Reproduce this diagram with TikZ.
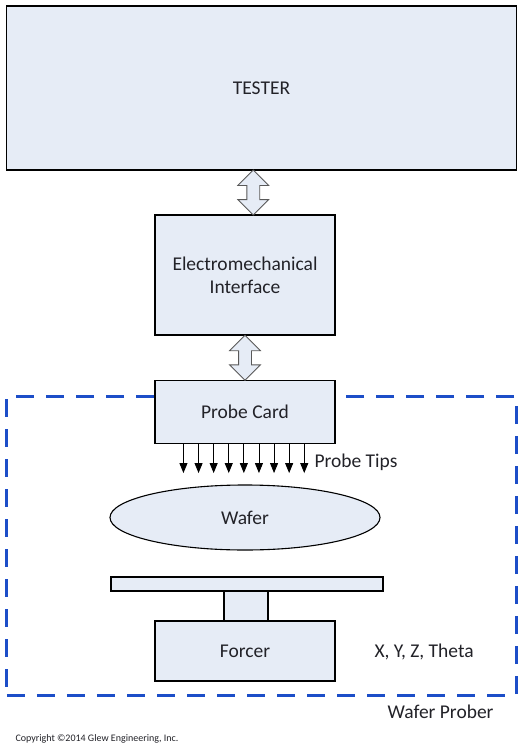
\documentclass[tikz,border=0pt]{standalone}
\usepackage{fontspec}
\setmainfont{Carlito}
\usetikzlibrary{arrows.meta,shapes,positioning,calc}
\definecolor{boxfill}{RGB}{230,236,246}
\definecolor{proberblue}{RGB}{28,78,200}
\definecolor{txt}{RGB}{34,34,40}
\tikzset{
  block/.style={draw=black,line width=1.1bp,fill=boxfill,inner sep=0pt,text=txt},
  dblarrow/.style={double arrow,draw=black!65,line width=0.8bp,fill=boxfill,rotate=90,
    minimum height=45bp,inner sep=6bp,double arrow head extend=9bp},
  tip/.style={-{Triangle[length=10bp,width=8bp]},line width=0.9bp},
  probebox/.style={draw=proberblue,line width=3bp,dash pattern=on 18bp off 12bp,inner sep=0pt}
}
\begin{document}
\begin{tikzpicture}[x=1bp,y=-1bp,font=\fontsize{19.5bp}{23bp}\selectfont,text=txt]
\useasboundingbox[fill=white] (0,0) rectangle (524,751);
\node[probebox,minimum width=509bp,minimum height=299bp] (prober) at (261.5,545.5) {};
\node[block,minimum width=510bp,minimum height=164bp] (tester) at (261.5,88) {TESTER};
\node[block,minimum width=180bp,minimum height=120bp,align=center] (emi) at (245,275)
  {Electromechanical\\Interface};
\node[block,minimum width=180bp,minimum height=63bp] (card) at (245,412) {Probe Card};
\node[block,ellipse,minimum width=270bp,minimum height=65bp] (wafer) at (245,517.5) {Wafer};
\node[block,minimum width=272bp,minimum height=14bp] (plate) at (247,584) {};
\node[block,minimum width=44bp,minimum height=30bp] (stem) at (246,606) {};
\node[block,minimum width=180bp,minimum height=60bp] (forcer) at (245,651) {Forcer};
\node[dblarrow] (a1) at ($(tester.south)!0.5!(emi.north)$) {};
\node[dblarrow] (a2) at ($(emi.south)!0.5!(card.north)$) {};
\foreach \i in {0,...,8}
  \draw[tip] ([xshift=29bp+\i*15.1bp]card.south west) -- ++(0,29);
\node[anchor=west] (tips) at (311,462) {Probe Tips};
\node[anchor=west] (axes) at (371,652) {X, Y, Z, Theta};
\node[anchor=east] (label) at (497,712) {Wafer Prober};
\node[anchor=west,font=\fontsize{10bp}{12bp}\selectfont] (copy) at (12,739)
  {Copyright \textcopyright 2014 Glew Engineering, Inc.};
\end{tikzpicture}
\end{document}
